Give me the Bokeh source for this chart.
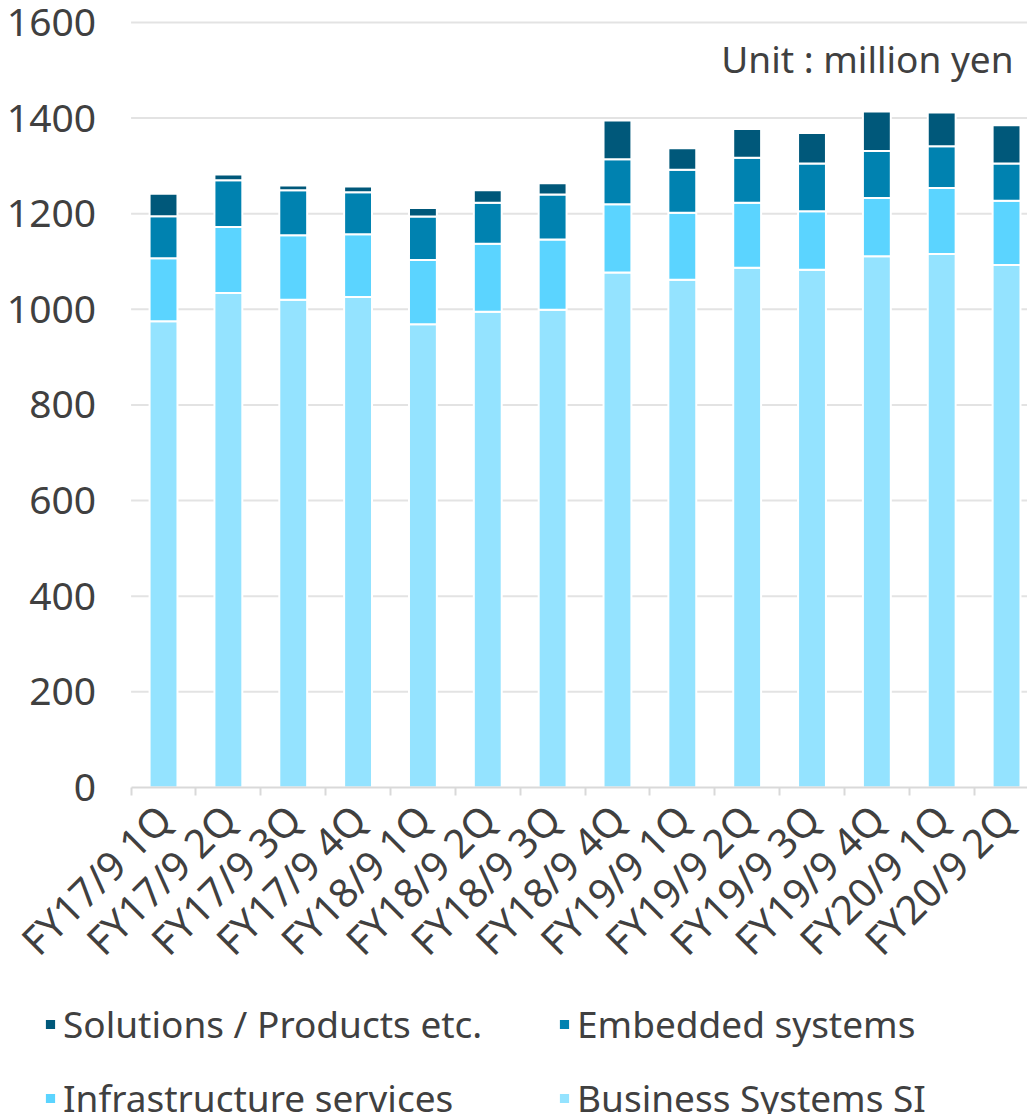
import math
from bokeh.plotting import figure
from bokeh.models import (ColumnDataSource, Range1d, FixedTicker, Legend, LegendItem, Label, LinearAxis)
from bokeh.embed import file_html
from bokeh.resources import INLINE

categories = ["FY17/9 1Q", "FY17/9 2Q", "FY17/9 3Q", "FY17/9 4Q",
              "FY18/9 1Q", "FY18/9 2Q", "FY18/9 3Q", "FY18/9 4Q",
              "FY19/9 1Q", "FY19/9 2Q", "FY19/9 3Q", "FY19/9 4Q",
              "FY20/9 1Q", "FY20/9 2Q"]
business_si = [975, 1034, 1020, 1026, 969, 995, 999, 1077, 1062, 1087, 1083, 1111, 1116, 1093]
infrastructure = [132, 138, 135, 131, 134, 142, 147, 143, 140, 136, 122, 122, 138, 134]
embedded = [88, 98, 94, 88, 91, 86, 94, 94, 90, 94, 100, 98, 87, 78]
solutions = [47, 12, 10, 12, 18, 26, 24, 81, 45, 60, 64, 83, 71, 80]
y_ticks = [0, 200, 400, 600, 800, 1000, 1200, 1400, 1600]

series_names = ["Business Systems SI", "Infrastructure services", "Embedded systems", "Solutions / Products etc."]
series_keys = ["business", "infra", "embedded", "solutions"]
colors = ["#94E3FF", "#5BD4FF", "#0082B0", "#00587A"]

FONT = "Noto Sans"
TXT = "#404040"

n = len(categories)
centers = [i + 0.5 for i in range(n)]
bounds = list(range(n + 1))

src = ColumnDataSource(dict(x=centers, business=business_si, infra=infrastructure,
                            embedded=embedded, solutions=solutions))

# the frame fills the whole canvas; axes are pinned at x=0 / y=0
p = figure(width=1027, height=1114, output_backend="svg", toolbar_location=None,
           x_range=Range1d(-2.014, 13.823), y_range=Range1d(-684, 1646),
           x_axis_location=None, y_axis_location=None, min_border=0)
p.outline_line_color = None
p.background_fill_color = "white"
p.border_fill_color = "white"
p.grid.visible = False

# horizontal gridlines (plot area only)
grid_y = y_ticks[1:]
p.segment(x0=[0] * len(grid_y), x1=[n] * len(grid_y), y0=grid_y, y1=grid_y,
          line_color="#e3e3e3", line_width=2)

rs = p.vbar_stack(series_keys, x="x", width=0.43, source=src, color=colors,
                  line_color="white", line_width=2)

# y axis
yaxis = LinearAxis(fixed_location=0, ticker=FixedTicker(ticks=y_ticks), bounds=(0, 1600))
yaxis.axis_line_color = None
yaxis.major_tick_line_color = None
yaxis.minor_tick_line_color = None
yaxis.major_label_text_font = FONT
yaxis.major_label_text_font_size = "39px"
yaxis.major_label_text_color = TXT
yaxis.major_label_standoff = 29
p.add_layout(yaxis, "left")

# x axis
xaxis = LinearAxis(fixed_location=0, ticker=FixedTicker(ticks=centers, minor_ticks=bounds),
                   bounds=(0, n))
xaxis.major_label_overrides = {c: lab for c, lab in zip(centers, categories)}
xaxis.major_label_orientation = math.pi / 4
xaxis.major_label_text_font = FONT
xaxis.major_label_text_font_size = "40px"
xaxis.major_label_text_color = TXT
xaxis.major_tick_line_color = None
xaxis.minor_tick_line_color = "#d9d9d9"
xaxis.minor_tick_line_width = 2
xaxis.minor_tick_in = 0
xaxis.minor_tick_out = 8
xaxis.axis_line_color = "#d9d9d9"
xaxis.axis_line_width = 2
xaxis.major_label_standoff = 16
p.add_layout(xaxis, "below")

# unit label
p.add_layout(Label(x=1013, y=1056, x_units="screen", y_units="screen",
                   text="Unit : million yen", text_align="right", text_baseline="middle",
                   text_font=FONT, text_font_size="37px", text_color=TXT))

# legend (order: Solutions, Embedded / Infrastructure, Business)
items = [LegendItem(label=series_names[i], renderers=[rs[i]]) for i in [3, 2, 1, 0]]
legend = Legend(items=items, orientation="horizontal", ncols=2,
                location=(43, -9), glyph_width=14, glyph_height=14,
                label_standoff=6, label_width=471, spacing=23, padding=0, margin=0,
                border_line_color=None, background_fill_alpha=0,
                label_text_font=FONT, label_text_font_size="37px", label_text_color=TXT)
p.add_layout(legend, "center")

open("out.html", "w").write(file_html(p, INLINE))
